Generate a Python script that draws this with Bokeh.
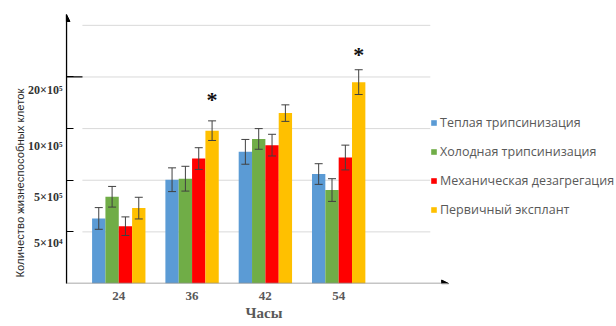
import numpy as np
from bokeh.plotting import figure
from bokeh.models import (ColumnDataSource, FixedTicker, Range1d, Whisker, TeeHead,
                          Arrow, NormalHead, Legend, LegendItem, Title)
from bokeh.core.properties import value
from bokeh.embed import file_html
from bokeh.resources import INLINE

# ---------------- data ----------------
hours = ["24", "36", "42", "54"]
series_names = ["Теплая трипсинизация", "Холодная трипсинизация",
                "Механическая дезагрегация", "Первичный эксплант"]
warm = [1.26, 2.01, 2.55, 2.12]
warm_err = [0.21, 0.23, 0.24, 0.20]
cold = [1.68, 2.03, 2.80, 1.81]
cold_err = [0.20, 0.24, 0.20, 0.22]
mech = [1.11, 2.42, 2.68, 2.44]
mech_err = [0.18, 0.21, 0.21, 0.24]
expl = [1.46, 2.96, 3.30, 3.90]
expl_err = [0.21, 0.19, 0.16, 0.24]
significance = [False, True, False, True]   # '*' above primary explant
star_levels = [None, 3.57, None, 4.44]

grid_levels = [1, 2, 3, 4, 5]
ytick_label_pos = [3.74, 2.67, 1.67, 0.78]
ytick_labels = ["20×10⁵", "10×10⁵", "5×10⁵", "5×10⁴"]

colors = ["#5B9BD5", "#70AD47", "#FF0000", "#FFC000"]

# ---------------- layout constants ----------------
X_START, X_END = -0.713, 6.79
Y_END = 5.21
BAR_W = 0.182
GRID_X0, GRID_X1 = -0.496, 4.25
XAXIS_END = 4.50

p = figure(width=616, height=326, output_backend="svg", toolbar_location=None,
           x_range=Range1d(X_START, X_END), y_range=Range1d(0, Y_END),
           min_border_left=66, min_border_right=0, min_border_top=14,
           min_border_bottom=43, title=None)
p.outline_line_color = None
p.xgrid.visible = False
p.ygrid.visible = False

# grid lines
p.segment(x0=[GRID_X0] * len(grid_levels), x1=[GRID_X1] * len(grid_levels),
          y0=grid_levels, y1=grid_levels, line_color="#D9D9D9", line_width=1)

idx = np.arange(len(hours))
vals = [warm, cold, mech, expl]
errs = [warm_err, cold_err, mech_err, expl_err]
offsets = [-1.5, -0.5, 0.5, 1.5]
items = []
for name, v, e, off, c in zip(series_names, vals, errs, offsets, colors):
    xs = idx + off * BAR_W
    v = np.array(v)
    e = np.array(e)
    src = ColumnDataSource(dict(x=xs, top=v, upper=v + e, lower=v - e))
    r = p.vbar(x="x", top="top", width=BAR_W, bottom=0, source=src,
               fill_color=c, line_color=None)
    items.append(LegendItem(label=name, renderers=[r]))
    w = Whisker(base="x", upper="upper", lower="lower", source=src,
                line_color="#404040", line_width=1, level="overlay",
                upper_head=TeeHead(size=8, line_color="#404040", line_width=1),
                lower_head=TeeHead(size=8, line_color="#404040", line_width=1))
    p.add_layout(w)

# significance stars
sx = [i + 1.5 * BAR_W for i, s in zip(idx, significance) if s]
sy = [lv for lv, s in zip(star_levels, significance) if s]
p.text(x=sx, y=sy, text=["*"] * len(sx), text_align="center",
       text_baseline="middle", text_font=value("Liberation Serif"),
       text_font_size="22px", text_font_style="bold", text_color="#111111")

# y axis
yax = p.yaxis[0]
yax.ticker = FixedTicker(ticks=ytick_label_pos, minor_ticks=grid_levels[:4])
yax.major_label_overrides = {t: l for t, l in zip(ytick_label_pos, ytick_labels)}
yax.major_tick_in = 0
yax.major_tick_out = 0
yax.minor_tick_in = 7
yax.minor_tick_out = 0
yax.minor_tick_line_color = "#000000"
yax.axis_line_color = "#000000"
yax.axis_line_width = 1.2
yax.major_label_standoff = 4
yax.major_label_text_font = "Liberation Serif"
yax.major_label_text_font_style = "bold"
yax.major_label_text_font_size = "12px"
yax.major_label_text_color = "#333333"
# longer crossing tick at top level
p.segment(x0=[X_START], x1=[X_START + 16 / 73.3], y0=[grid_levels[3]], y1=[grid_levels[3]],
          line_color="#000000", line_width=1.2)
p.add_layout(Arrow(end=NormalHead(size=7, fill_color="#000000", line_color="#000000"),
                   x_start=X_START, y_start=0, x_end=X_START, y_end=Y_END,
                   line_color="#000000", line_width=1.2), "center")

# x axis
xax = p.xaxis[0]
xax.ticker = FixedTicker(ticks=list(idx))
xax.major_label_overrides = {int(i): h for i, h in zip(idx, hours)}
xax.axis_line_color = None
xax.major_tick_in = 0
xax.major_tick_out = 0
xax.minor_tick_in = 0
xax.minor_tick_out = 0
xax.major_label_standoff = 8
xax.major_label_text_font = "Liberation Serif"
xax.major_label_text_font_style = "bold"
xax.major_label_text_font_size = "13px"
xax.major_label_text_color = "#595959"
p.add_layout(Arrow(end=NormalHead(size=7, fill_color="#000000", line_color="#000000"),
                   x_start=X_START, y_start=0, x_end=XAXIS_END, y_end=0,
                   line_color="#8C8C8C", line_width=1.5), "center")

# titles
ytitle = Title(text="Количество жизнеспособных клеток", align="left", offset=6,
               text_font="Liberation Sans", text_font_size="11.3px",
               text_font_style="normal", text_color="#262626", standoff=0)
p.add_layout(ytitle, "left")
xtitle = Title(text="Часы", align="left", offset=179, vertical_align="bottom",
               text_font="Liberation Serif", text_font_size="15px",
               text_font_style="bold", text_color="#595959", standoff=0)
p.add_layout(xtitle, "below")

# legend
legend = Legend(items=items, location=(364, 65), orientation="vertical",
                glyph_width=7, glyph_height=7, label_height=14, spacing=12,
                label_standoff=3, padding=0, margin=0,
                background_fill_alpha=0, border_line_color=None,
                label_text_font="Open Sans", label_text_font_size="12.5px",
                label_text_color="#595959")
p.add_layout(legend, "center")

open("out.html", "w").write(file_html(p, INLINE))
